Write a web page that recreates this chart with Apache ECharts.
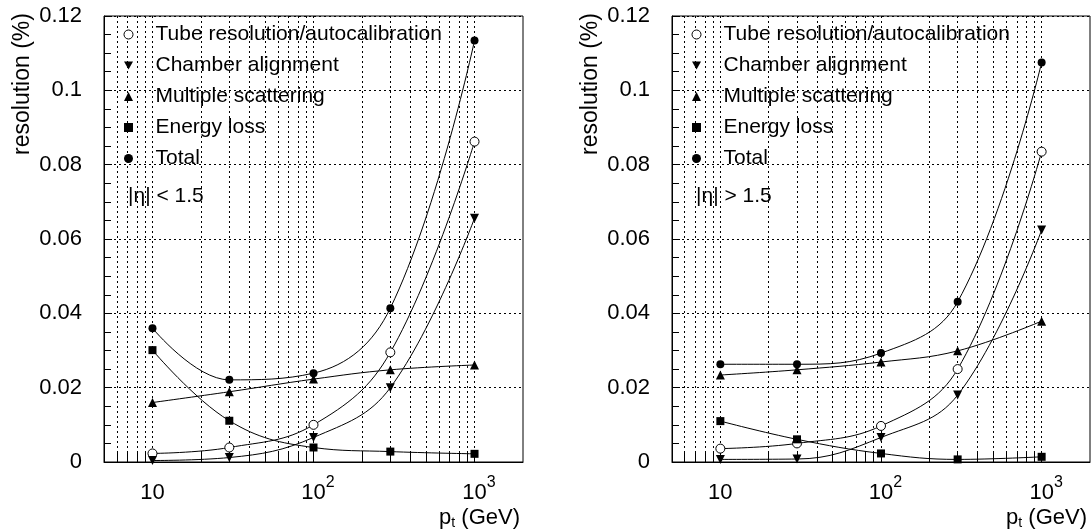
<!DOCTYPE html>
<html>
<head>
<meta charset="utf-8">
<script src="https://cdn.jsdelivr.net/npm/echarts@6/dist/echarts.min.js"></script>
<style>html,body{margin:0;padding:0;background:#fff;}#c{width:1091px;height:531px;}</style>
</head>
<body>
<div id="c"></div>
<script>
// ---- data ----
const ptValues = [10, 30, 100, 300, 1000];
const seriesNames = ['Tube resolution/autocalibration', 'Chamber alignment', 'Multiple scattering', 'Energy loss', 'Total'];
const lowEtaTube    = [0.0023, 0.0039, 0.0100, 0.0295, 0.0862];
const lowEtaChamber = [0.0004, 0.0012, 0.0066, 0.0200, 0.0656];
const lowEtaMS      = [0.0160, 0.0189, 0.0223, 0.0248, 0.0261];
const lowEtaEloss   = [0.0301, 0.0111, 0.0039, 0.0028, 0.0022];
const lowEtaTotal   = [0.0360, 0.0221, 0.0239, 0.0414, 0.1134];
const highEtaTube    = [0.0036, 0.0050, 0.0097, 0.0250, 0.0835];
const highEtaChamber = [0.0007, 0.0008, 0.0066, 0.0180, 0.0624];
const highEtaMS      = [0.0234, 0.0248, 0.0269, 0.0299, 0.0379];
const highEtaEloss   = [0.0110, 0.0061, 0.0023, 0.0007, 0.0014];
const highEtaTotal   = [0.0263, 0.0263, 0.0293, 0.0431, 0.1075];
const panelLabels = ['|η| < 1.5', '|η| > 1.5'];
const xLabelTicks = [10, 100, 1000];
const xGridTicks = [6, 7, 8, 9, 10, 20, 30, 40, 50, 60, 70, 80, 90, 100, 200, 300, 400, 500, 600, 700, 800, 900, 1000];
const yAxisTitle = 'resolution (%)';

// ---- styles ----
const FONT = "'Liberation Sans', Arial, Helvetica, sans-serif";
const DOT = [2, 3];
const invTri = 'path://M0,0L10,0L5,9Z';
const markerDefs = [
  { symbol: 'circle', size: 9, itemStyle: { color: '#fff', borderColor: '#000', borderWidth: 1 } },
  { symbol: invTri, size: 9, itemStyle: { color: '#000', borderWidth: 0 } },
  { symbol: 'triangle', size: 9, itemStyle: { color: '#000', borderWidth: 0 } },
  { symbol: 'rect', size: 8, itemStyle: { color: '#000', borderWidth: 0 } },
  { symbol: 'circle', size: 8, itemStyle: { color: '#000', borderWidth: 0 } }
];
const panels = [
  { left: 104, width: 419, values: [lowEtaTube, lowEtaChamber, lowEtaMS, lowEtaEloss, lowEtaTotal] },
  { left: 672, width: 418, values: [highEtaTube, highEtaChamber, highEtaMS, highEtaEloss, highEtaTotal] }
];

function xLabel(v) {
  if (v === 10) return '{b|10}';
  const e = Math.round(Math.log10(v));
  return '{c|10}{s|' + e + '}';
}

const option = {
  animation: false,
  backgroundColor: '#fff',
  textStyle: { fontFamily: FONT },
  grid: panels.map(p => ({ left: p.left, top: 16, width: p.width, height: 446, show: true, borderColor: '#000', borderWidth: 1, backgroundColor: 'transparent' })),
  title: panels.map((p, i) => ({
    text: panelLabels[i], left: p.left + 24, top: 186, padding: 0,
    textStyle: { fontFamily: FONT, fontSize: 21, fontWeight: 'normal', color: '#000' }
  })),
  legend: panels.map((p, i) => ({
    orient: 'vertical', left: p.left + 19.5, top: 24, padding: 0,
    itemWidth: 9, itemHeight: 9, itemGap: 10, selectedMode: false,
    textStyle: { fontFamily: FONT, fontSize: 21, color: '#000', lineHeight: 21, padding: [0, 0, 0, 17.5] },
    data: seriesNames.map((n, k) => ({ name: n, icon: markerDefs[k].symbol, itemStyle: markerDefs[k].itemStyle }))
  })),
  xAxis: panels.map((p, i) => ({
    type: 'log', logBase: 10, gridIndex: i, min: 5, max: 2000,
    name: '{n|p}{t|t}{n| (GeV)}', nameLocation: 'end', nameGap: 0, nameMoveOverlap: false,
    nameTextStyle: { align: 'right', verticalAlign: 'top', padding: [44, 3, 0, 0],
      rich: { n: { fontFamily: FONT, fontSize: 22, color: '#000' }, t: { fontFamily: FONT, fontSize: 14, color: '#000', padding: [10, 0, 0, 0] } } },
    axisLine: { show: true, lineStyle: { color: '#000', width: 1 } },
    axisTick: { show: true, inside: true, length: 9, customValues: xGridTicks, lineStyle: { color: '#000' } },
    minorTick: { show: false },
    axisLabel: { show: true, customValues: xLabelTicks, margin: 9, formatter: xLabel, color: '#000',
      rich: {
        b: { fontFamily: FONT, fontSize: 22, color: '#000', padding: [11, 0, 0, 0] },
        c: { fontFamily: FONT, fontSize: 22, color: '#000', padding: [11, 0, 0, 9] },
        s: { fontFamily: FONT, fontSize: 16, color: '#000', padding: [0, 0, 10, 0] }
      } },
    splitLine: { show: true, lineStyle: { color: '#000', width: 1, type: DOT } },
    minorSplitLine: { show: false }
  })),
  yAxis: panels.map((p, i) => ({
    type: 'value', gridIndex: i, min: 0, max: 0.12, interval: 0.02,
    name: yAxisTitle, nameLocation: 'middle', nameGap: 70, nameRotate: 90, nameMoveOverlap: false,
    nameTextStyle: { fontFamily: FONT, fontSize: 23, color: '#000', padding: [0, 0, 0, 310] },
    axisLine: { show: true, lineStyle: { color: '#000', width: 1 } },
    axisTick: { show: true, inside: true, length: 8, lineStyle: { color: '#000' } },
    minorTick: { show: true, splitNumber: 4, length: 7, lineStyle: { color: '#000' } },
    axisLabel: { margin: 22, fontFamily: FONT, fontSize: 22, color: '#000' },
    splitLine: { show: true, lineStyle: { color: '#000', width: 1, type: DOT } }
  })),
  series: []
};

panels.forEach((p, i) => {
  p.values.forEach((vals, k) => {
    const m = markerDefs[k];
    option.series.push({
      type: 'line', name: seriesNames[k], xAxisIndex: i, yAxisIndex: i,
      data: ptValues.map((x, j) => [x, vals[j]]),
      smooth: 0.4, symbol: m.symbol, symbolSize: m.size, showSymbol: true,
      lineStyle: { color: '#000', width: 1 },
      itemStyle: m.itemStyle, z: 3
    });
  });
});

const chart = echarts.init(document.getElementById('c'), null, { renderer: 'canvas' });
chart.setOption(option);
</script>
</body>
</html>
